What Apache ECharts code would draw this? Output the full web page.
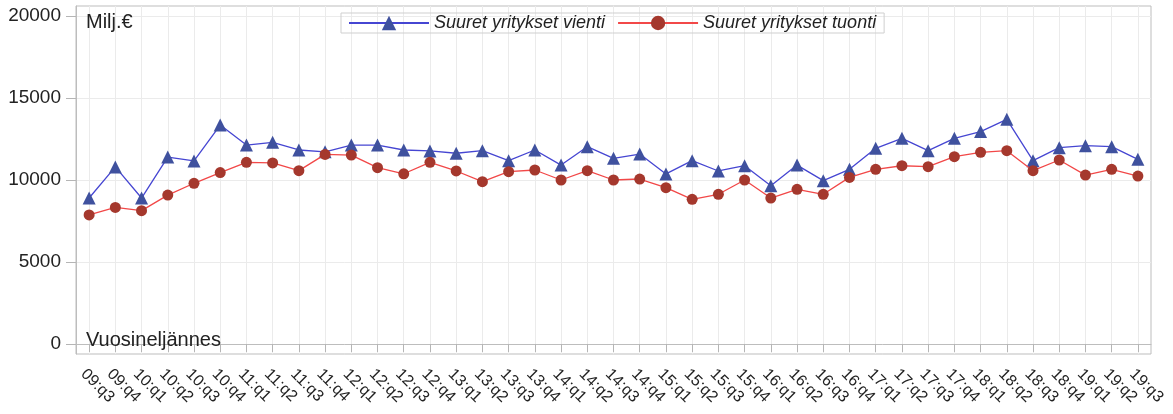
<!DOCTYPE html>
<html>
<head>
<meta charset="utf-8">
<script src="https://cdn.jsdelivr.net/npm/echarts@6/dist/echarts.min.js"></script>
<style>html,body{margin:0;padding:0;background:#fff}#c{width:1173px;height:414px}</style>
</head>
<body>
<div id="c"></div>
<script>
const categories = ['09:q3','09:q4','10:q1','10:q2','10:q3','10:q4','11:q1','11:q2','11:q3','11:q4',
  '12:q1','12:q2','12:q3','12:q4','13:q1','13:q2','13:q3','13:q4','14:q1','14:q2',
  '14:q3','14:q4','15:q1','15:q2','15:q3','15:q4','16:q1','16:q2','16:q3','16:q4',
  '17:q1','17:q2','17:q3','17:q4','18:q1','18:q2','18:q3','18:q4','19:q1','19:q2','19:q3'];
const vienti = [8900,10800,8900,11400,11160,13350,12130,12300,11830,11720,
  12130,12130,11830,11770,11630,11790,11180,11830,10910,12030,
  11320,11580,10370,11180,10550,10870,9650,10910,9960,10650,
  11930,12540,11790,12540,12950,13700,11180,11970,12090,12030,11260];
const tuonti = [7870,8330,8130,9080,9800,10450,11080,11040,10570,11560,
  11520,10750,10380,11080,10550,9900,10510,10610,10000,10570,
  10000,10060,9530,8820,9130,10000,8900,9430,9130,10160,
  10650,10870,10810,11420,11690,11790,10570,11220,10300,10650,10240];
const yTicks = [0,5000,10000,15000,20000];
const seriesNames = ['Suuret yritykset vienti','Suuret yritykset tuonti'];
const unitLabel = 'Milj.€';
const xTitle = 'Vuosineljännes';

const chart = echarts.init(document.getElementById('c'), null, {renderer:'canvas'});
const font = 'Liberation Sans, Arial, sans-serif';
chart.setOption({
  animation: false,
  grid: {left: 76, right: 22, top: 6, bottom: 60, show: true, borderColor: '#bdbdbd', borderWidth: 1, backgroundColor: 'transparent'},
  legend: {
    left: 341, top: 13, padding: [0, 8, 0, 7], itemGap: 12, itemWidth: 80, itemHeight: 18,
    borderColor: '#cfcfcf', borderWidth: 1,
    textStyle: {fontFamily: font, fontSize: 18, fontStyle: 'italic', color: '#222', lineHeight: 20},
    data: seriesNames
  },
  xAxis: {
    type: 'category', data: categories, boundaryGap: true,
    axisLine: {show: true, lineStyle: {color: '#bdbdbd'}},
    axisTick: {show: true, alignWithLabel: true, length: 8, lineStyle: {color: '#b5b5b5'}},
    splitLine: {show: true, alignWithLabel: true, interval: 0, lineStyle: {color: '#ebebeb'}},
    axisLabel: {interval: 0, rotate: -45, margin: 12, verticalAlign: 'top', fontFamily: font, fontSize: 16, color: '#222'}
  },
  yAxis: {
    type: 'value', min: -610, max: 20610,
    axisLine: {show: true, lineStyle: {color: '#bdbdbd'}},
    axisTick: {show: true, length: 10, customValues: yTicks, lineStyle: {color: '#b5b5b5'}},
    splitLine: {show: true, lineStyle: {color: '#ebebeb'}},
    axisLabel: {customValues: yTicks, margin: 15, fontFamily: font, fontSize: 19, color: '#222',
      formatter: v => String(v)}
  },
  graphic: [
    {type: 'text', z: 10, left: 86, top: 12, style: {text: unitLabel, font: '20px ' + font, fill: '#222'}},
    {type: 'text', z: 10, left: 86, top: 330, style: {text: xTitle, font: '20px ' + font, fill: '#222'}}
  ],
  series: [
    {name: seriesNames[0], type: 'line', data: vienti, symbol: 'triangle', symbolSize: 13,
     lineStyle: {color: '#4646d2', width: 1.3}, itemStyle: {color: '#3f519e'}, z: 3},
    {name: seriesNames[1], type: 'line', data: tuonti, symbol: 'circle', symbolSize: 11,
     lineStyle: {color: '#f24848', width: 1.3}, itemStyle: {color: '#a5382d'}, z: 4}
  ]
});
</script>
</body>
</html>
